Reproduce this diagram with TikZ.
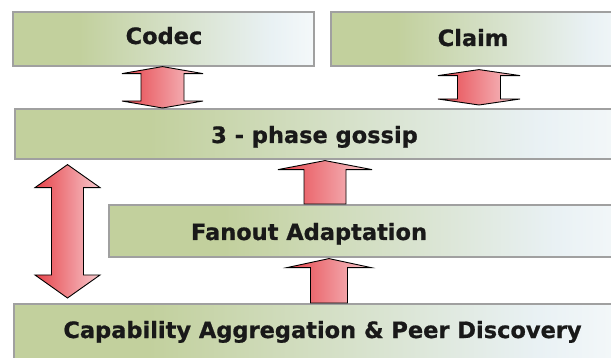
\documentclass[tikz,border=0pt]{standalone}
\usepackage{fontspec}
\newfontfamily\layerfont{DejaVu Sans}[BoldFeatures={FakeBold=0.8}]
\usepackage{tikz}
\usetikzlibrary{calc}
\definecolor{layerGreen}{HTML}{C2D09D}
\definecolor{layerBlue}{HTML}{E9F1F4}
\definecolor{layerEdge}{HTML}{A0A0A0}
\definecolor{arrowRed}{HTML}{E6434A}
\definecolor{arrowPink}{HTML}{F7C9CD}
\pgfdeclarehorizontalshading{layer}{100bp}{color(0bp)=(layerGreen); color(25bp)=(layerGreen); color(36bp)=(layerGreen); color(68bp)=(layerBlue); color(75bp)=(layerBlue!50!white); color(100bp)=(layerBlue!50!white)}
\tikzset{layerbox/.style={draw=layerEdge, line width=1.6pt, shading=layer, anchor=north west, inner sep=0pt},
    layertext/.style={anchor=base, inner sep=0pt, text=black!90, font=\layerfont\bfseries\fontsize{22.5}{27}\selectfont},
    fatarrow/.style={draw=black, line width=0.9pt, line join=miter, left color=arrowRed, right color=arrowPink}}
% double block arrow: x, upper layer, lower layer, gap, head half width, shaft half width, head length
\newcommand{\dblarrow}[7]{%
  \draw[fatarrow] let \p1=(#2.south), \p2=(#3.north) in
    (#1pt,\y1+#4pt) -- (#1pt+#5pt,\y1+#4pt+#7pt) -- (#1pt+#6pt,\y1+#4pt+#7pt) -- (#1pt+#6pt,\y2-#4pt-#7pt)
    -- (#1pt+#5pt,\y2-#4pt-#7pt) -- (#1pt,\y2-#4pt) -- (#1pt-#5pt,\y2-#4pt-#7pt) -- (#1pt-#6pt,\y2-#4pt-#7pt)
    -- (#1pt-#6pt,\y1+#4pt+#7pt) -- (#1pt-#5pt,\y1+#4pt+#7pt) -- cycle;}
% single block arrow pointing up from the lower layer to the upper one
\newcommand{\uparrowblock}[7]{%
  \draw[fatarrow] let \p1=(#2.south), \p2=(#3.north) in
    (#1pt,\y1+#4pt) -- (#1pt+#5pt,\y1+#4pt+#7pt) -- (#1pt+#6pt,\y1+#4pt+#7pt) -- (#1pt+#6pt,\y2)
    -- (#1pt-#6pt,\y2) -- (#1pt-#6pt,\y1+#4pt+#7pt) -- (#1pt-#5pt,\y1+#4pt+#7pt) -- cycle;}

\begin{document}
\begin{tikzpicture}[x=1pt,y=1pt,yscale=-1,xscale=1]
\fill[white] (0,0) rectangle (611,358);
\useasboundingbox (0,0) rectangle (611,358);

%Shape: Rectangle
\node[layerbox, minimum width=301pt, minimum height=54pt] (codec) at (12,11) {};
%Shape: Rectangle
\node[layerbox, minimum width=300pt, minimum height=54pt] (claim) at (330,11) {};
%Shape: Rectangle
\node[layerbox, minimum width=610pt, minimum height=50pt] (gossip) at (14,108) {};
%Shape: Rectangle
\node[layerbox, minimum width=520pt, minimum height=52pt] (fanout) at (108,204) {};
%Shape: Rectangle
\node[layerbox, minimum width=610pt, minimum height=70pt] (capab) at (13,303) {};

% Text Node
\node[layertext] (codectext) at (164,44) {Codec};
% Text Node
\node[layertext] (claimtext) at (473,46) {Claim};
% Text Node
\node[layertext] (gossiptext) at (314.5,143) {3 - phase gossip};
% Text Node
\node[layertext] (fanouttext) at (309,240) {Fanout Adaptation};
% Text Node
\node[layertext] (capabtext) at (322.5,338) {Capability Aggregation \& Peer Discovery};

%Block Arrows
\dblarrow{162.5}{codec}{gossip}{0}{40.5}{21.5}{7}
\dblarrow{479}{claim}{gossip}{3}{41}{21.5}{6}
\dblarrow{67.5}{gossip}{capab}{5}{32.5}{16}{23}
\uparrowblock{325}{gossip}{fanout}{1}{47}{21}{9}
\uparrowblock{329}{fanout}{capab}{1}{42}{18.5}{9}

\end{tikzpicture}
\end{document}
